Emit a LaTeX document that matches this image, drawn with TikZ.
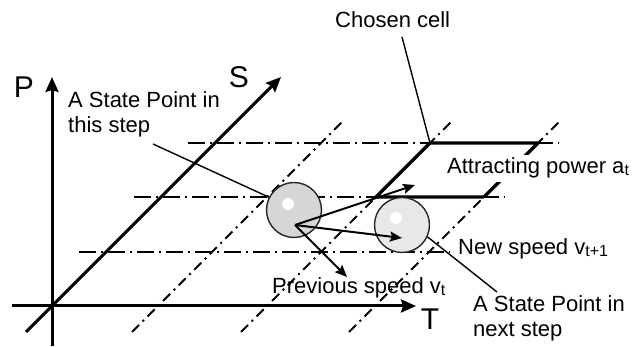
\documentclass[tikz,border=0pt]{standalone}
\usepackage{fontspec}
\setmainfont{Liberation Sans}
\usetikzlibrary{arrows.meta}
\newcommand\lowidx[1]{\raisebox{-2pt}{\fontsize{16}{16}\selectfont #1}}
\begin{document}
\begin{tikzpicture}[x=1pt,y=-1pt,line join=round,font=\fontsize{22}{25}\selectfont,
	axis/.style={line width=3pt,-{Stealth[length=15pt,width=13pt,inset=2pt]}},
	gridline/.style={line width=1.9pt,dash pattern=on 17pt off 5pt on 2pt off 5pt},
	skewline/.style={line width=1.9pt,dash pattern=on 10pt off 5pt on 2pt off 5pt},
	cellline/.style={line width=3.2pt},
	speed/.style={line width=2pt,-{Stealth[length=12pt,width=10pt,inset=2pt]}},
	callout/.style={line width=1.4pt},
	ball/.style={circle,draw=black!85,line width=1.4pt,minimum size=55pt,inner sep=0pt},
	txt/.style={inner sep=0pt,align=left},
	axlbl/.style={inner sep=0pt,font=\fontsize{30}{30}\selectfont}]
	\useasboundingbox (0,0) rectangle (632,347);
	\foreach \s in {54,109,163}
		\draw[gridline] (25+\s,306-\s) -- (396+\s,306-\s);
	\foreach \t in {158,267,375}
		\draw[skewline] (\t-26,332) -- (\t+186,120);
	\draw[axis] (52,346) -- (52,77);
	\draw[axis] (12,306) -- (416,306);
	\draw[axis] (26,332) -- (281,77);
	\node[axlbl] (P) at (24,87) {P};
	\node[axlbl] (S) at (239,77) {S};
	\node[axlbl] (T) at (430,319) {T};
	\coordinate (c00) at (376,197);
	\coordinate (c01) at (430,143);
	\coordinate (c11) at (538,143);
	\coordinate (c10) at (484,197);
	\draw[cellline] (c10) -- (c00) -- (c01) -- (c11) -- (c10);
	\node[ball,fill=gray!32] (cur) at (294,210) {};
	\node[ball,fill=gray!18] (nxt) at (402,225) {};
	\fill[white] (288,204) circle (6pt);
	\fill[white] (396,218) circle (6pt);
	\coordinate (p0) at (295,225);
	\coordinate (attr) at (415,185);
	\coordinate (newv) at (402,238);
	\coordinate (prev) at (347,277);
	\draw[speed] (p0) -- (attr);
	\draw[speed] (p0) -- (newv);
	\draw[speed] (p0) -- (prev);
	\node[txt,anchor=north west] (thislbl) at (68,91) {A State Point in\\this step};
	\node[txt,anchor=base west] (celllbl) at (335,28) {Chosen cell};
	\node[txt,anchor=base west,fill=white,inner ysep=3pt] (attrlbl) at (447,174) {Attracting power a\lowidx{t}};
	\node[txt,anchor=base west] (newlbl) at (458,255) {New speed v\lowidx{t+1}};
	\node[txt,anchor=base west] (prevlbl) at (272,294) {Previous speed v\lowidx{t}};
	\node[txt,anchor=north west] (nextlbl) at (473,295) {A State Point in\\next step};
	\coordinate (k1) at (153,144);
	\coordinate (k2) at (402,37);
	\coordinate (k3) at (497,292);
	\draw[callout] (k1) -- (cur.153);
	\draw[callout] (k2) -- (c01);
	\draw[callout] (nxt.-25) -- (k3);
\end{tikzpicture}
\end{document}
